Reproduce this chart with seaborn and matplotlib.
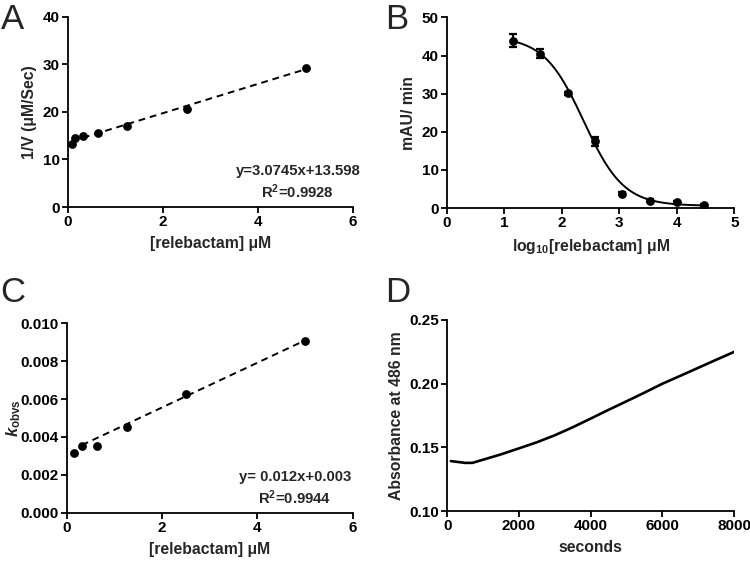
import numpy as np
import pandas as pd
import matplotlib
matplotlib.use("Agg")
import matplotlib.pyplot as plt
import seaborn as sns

# ---------------- data ----------------
# Panel A
a_conc = [0.078, 0.156, 0.3125, 0.625, 1.25, 2.5, 5.0]
a_invv = [13.3, 14.5, 15.0, 15.5, 17.1, 20.6, 29.3]
a_slope, a_icpt = 3.0745, 13.598

# Panel B
b_logc = [1.15, 1.62, 2.10, 2.57, 3.05, 3.53, 4.01, 4.48]
b_rate = [43.9, 40.5, 30.1, 17.5, 3.8, 2.0, 1.7, 0.7]
b_err = [1.7, 1.1, 0.4, 1.1, 0.3, 0.3, 0.3, 0.3]
b_top, b_bottom, b_logic50, b_hill = 45.0, 0.6, 2.38, 1.25

# Panel C
c_conc = [0.156, 0.3125, 0.625, 1.25, 2.5, 5.0]
c_kobs = [0.00313, 0.00354, 0.00352, 0.00451, 0.00627, 0.00905]
c_slope, c_icpt = 0.00118, 0.00320

# Panel D
d_time = [100, 300, 500, 700, 1000, 1500, 2000, 2500, 3000, 3500, 4000,
          4500, 5000, 5500, 6000, 6500, 7000, 7500, 8000]
d_abs = [0.1392, 0.1385, 0.1378, 0.1378, 0.1403, 0.1445, 0.1492, 0.1540,
         0.1595, 0.1658, 0.1726, 0.1795, 0.1862, 0.1930, 0.2000, 0.2062,
         0.2125, 0.2188, 0.2250]

# ---------------- style ----------------
sns.set_theme(style="ticks")
plt.rcParams['font.family'] = ['Liberation Sans', 'DejaVu Sans']
plt.rcParams['font.weight'] = 'bold'
plt.rcParams['axes.labelweight'] = 'bold'
plt.rcParams['mathtext.fontset'] = 'custom'
plt.rcParams['mathtext.rm'] = 'Liberation Sans:bold'
plt.rcParams['mathtext.it'] = 'Liberation Sans:italic:bold'
plt.rcParams['mathtext.bf'] = 'Liberation Sans:bold'

TICK_FS = 11
LAB_FS = 11.3
ANN_FS = 10.7

fig = plt.figure(figsize=(7.5, 5.61), dpi=100)
axA = fig.add_axes([0.0907, 0.631, 0.380, 0.339])
axB = fig.add_axes([0.596, 0.629, 0.383, 0.340])
axC = fig.add_axes([0.0893, 0.0861, 0.381, 0.3376])
axD = fig.add_axes([0.5963, 0.0891, 0.3827, 0.3405])


def style(ax):
    for s in ['top', 'right']:
        ax.spines[s].set_visible(False)
    for s in ['left', 'bottom']:
        ax.spines[s].set_linewidth(1.3)
        ax.spines[s].set_color('black')
    ax.tick_params(direction='out', length=4, width=1.3, colors='black',
                   labelsize=TICK_FS, pad=2)
    for lab in ax.get_xticklabels() + ax.get_yticklabels():
        lab.set_fontweight('bold')


# Panel A
dfA = pd.DataFrame({'x': a_conc, 'y': a_invv})
xa = np.array([a_conc[0], a_conc[-1]])
axA.plot(xa, a_slope * xa + a_icpt, ls=(0, (3.5, 2.5)), color='black', lw=1.4)
sns.scatterplot(data=dfA, x='x', y='y', ax=axA, color='black', s=40,
                edgecolor='black', linewidth=0, zorder=3)
axA.set_xlim(0, 6)
axA.set_ylim(0, 40)
axA.set_xticks([0, 2, 4, 6])
axA.set_yticks([0, 10, 20, 30, 40])
axA.set_xlabel('[relebactam] μM', fontsize=LAB_FS, labelpad=5)
axA.set_ylabel('1/V (μM/Sec)', fontsize=LAB_FS)
axA.text(4.84, 5.2, 'y=3.0745x+13.598\nR$^2$=0.9928', ha='center', va='center',
         fontsize=ANN_FS, fontweight='bold', linespacing=1.3)
style(axA)

# Panel B
dfB = pd.DataFrame({'x': b_logc, 'y': b_rate})
xb = np.linspace(b_logc[0], b_logc[-1], 200)
yb = b_bottom + (b_top - b_bottom) / (1 + 10 ** ((xb - b_logic50) * b_hill))
sns.lineplot(x=xb, y=yb, ax=axB, color='black', lw=1.4)
axB.errorbar(b_logc, b_rate, yerr=b_err, fmt='none', ecolor='black',
             elinewidth=1.6, capsize=3.2, capthick=1.6, zorder=2)
sns.scatterplot(data=dfB, x='x', y='y', ax=axB, color='black', s=40,
                linewidth=0, zorder=3)
axB.set_xlim(0, 5)
axB.set_ylim(0, 50)
axB.set_xticks([0, 1, 2, 3, 4, 5])
axB.set_yticks([0, 10, 20, 30, 40, 50])
axB.set_xlabel('log$_{10}$[relebactam] μM', fontsize=LAB_FS, labelpad=5)
axB.set_ylabel('mAU/ min', fontsize=LAB_FS)
style(axB)

# Panel C
dfC = pd.DataFrame({'x': c_conc, 'y': c_kobs})
xc = np.array([c_conc[1], c_conc[-1]])
axC.plot(xc, c_slope * xc + c_icpt, ls=(0, (3.5, 2.5)), color='black', lw=1.4)
sns.scatterplot(data=dfC, x='x', y='y', ax=axC, color='black', s=40,
                linewidth=0, zorder=3)
axC.set_xlim(0, 6)
axC.set_ylim(0, 0.010)
axC.set_xticks([0, 2, 4, 6])
axC.set_yticks([0.000, 0.002, 0.004, 0.006, 0.008, 0.010])
axC.set_yticklabels(['0.000', '0.002', '0.004', '0.006', '0.008', '0.010'])
axC.set_xlabel('[relebactam] μM', fontsize=LAB_FS, labelpad=5)
axC.set_ylabel(r'$k_{\mathrm{obvs}}$', fontsize=LAB_FS + 0.7)
axC.yaxis.set_label_coords(-0.155, 0.5)
axC.text(4.79, 0.00128, 'y= 0.012x+0.003\nR$^2$=0.9944', ha='center', va='center',
         fontsize=ANN_FS, fontweight='bold', linespacing=1.3)
style(axC)

# Panel D
dfD = pd.DataFrame({'t': d_time, 'a': d_abs})
sns.lineplot(data=dfD, x='t', y='a', ax=axD, color='black', lw=1.9)
axD.set_xlim(0, 8000)
axD.set_ylim(0.10, 0.25)
axD.set_xticks([0, 2000, 4000, 6000, 8000])
axD.set_yticks([0.10, 0.15, 0.20, 0.25])
axD.set_yticklabels(['0.10', '0.15', '0.20', '0.25'])
axD.set_xlabel('seconds', fontsize=LAB_FS, labelpad=5)
axD.set_ylabel('Absorbance at 486 nm', fontsize=LAB_FS)
style(axD)

# panel letters
for x, y, t in [(0.001, 0.994, 'A'), (0.514, 0.994, 'B'),
                (0.001, 0.508, 'C'), (0.514, 0.508, 'D')]:
    fig.text(x, y, t, fontsize=25, fontweight='normal', ha='left', va='top')

fig.savefig('out.png', dpi=100, facecolor='white')
